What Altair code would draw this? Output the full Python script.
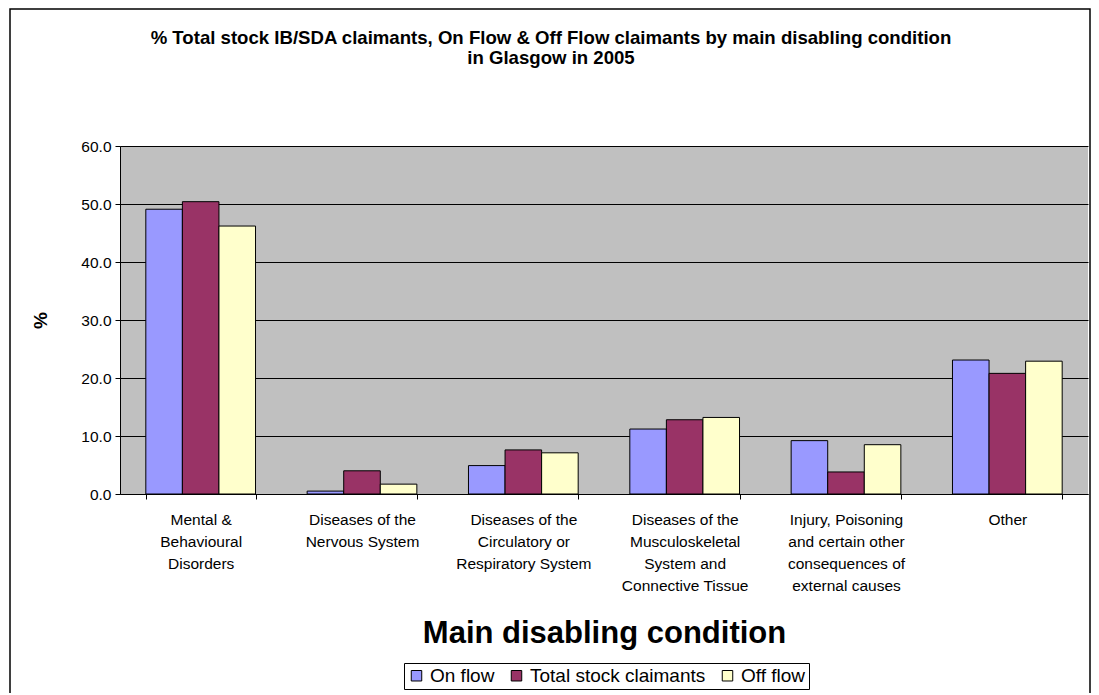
import altair as alt
import pandas as pd

categories = [
    "Mental &|Behavioural|Disorders",
    "Diseases of the|Nervous System",
    "Diseases of the|Circulatory or|Respiratory System",
    "Diseases of the|Musculoskeletal|System and|Connective Tissue",
    "Injury, Poisoning|and certain other|consequences of|external causes",
    "Other",
]
series = ["On flow", "Total stock claimants", "Off flow"]
on_flow = [49.1, 0.5, 4.9, 11.2, 9.2, 23.1]
total_stock = [50.4, 4.0, 7.6, 12.8, 3.8, 20.8]
off_flow = [46.2, 1.7, 7.1, 13.2, 8.5, 22.9]
colors = ["#9999FF", "#993366", "#FFFFCC"]
title_lines = [
    "% Total stock IB/SDA claimants, On Flow & Off Flow claimants by main disabling condition",
    "in Glasgow in 2005",
]

rows = []
for s, vals in zip(series, [on_flow, total_stock, off_flow]):
    for c, v in zip(categories, vals):
        rows.append({"category": c, "series": s, "value": v})
df = pd.DataFrame(rows)
one = pd.DataFrame({"a": [0]})

FONT = "Liberation Sans"

bars = alt.Chart(df).mark_bar(stroke="black", strokeWidth=1).encode(
    x=alt.X("category:N", sort=categories,
            scale=alt.Scale(paddingInner=0.32, paddingOuter=0.16),
            axis=alt.Axis(
                title="Main disabling condition",
                labelAngle=0,
                labelExpr="split(datum.label, '|')",
                labelFont=FONT, labelFontSize=15.5, labelColor="black",
                labelLineHeight=22, labelPadding=13, labelBaseline="top",
                tickBand="extent", tickSize=5, tickColor="black",
                domainColor="black", grid=False,
                titleFont=FONT, titleFontSize=31, titleFontWeight="bold",
                titleColor="black", titleBaseline="middle", titleY=139,
            )),
    xOffset=alt.XOffset("series:N", sort=series,
                        scale=alt.Scale(paddingInner=0, paddingOuter=0)),
    y=alt.Y("value:Q",
            scale=alt.Scale(domain=[0, 60], nice=False),
            axis=alt.Axis(
                title="%", values=[0, 10, 20, 30, 40, 50, 60], format=".1f",
                labelFont=FONT, labelFontSize=15.5, labelColor="black",
                labelPadding=4, tickSize=5, tickColor="black",
                domainColor="black", gridColor="black", gridOpacity=1,
                titleFont=FONT, titleFontSize=19, titleFontWeight="bold",
                titleColor="black", titleAngle=270, titleBaseline="middle",
                titleX=-80, titleY=174,
            )),
    color=alt.Color("series:N", sort=series,
                    scale=alt.Scale(domain=series, range=colors),
                    legend=alt.Legend(
                        title=None, orient="none", legendX=284, legendY=517,
                        direction="horizontal", symbolType="square",
                        symbolSize=110, symbolStrokeColor="black",
                        symbolStrokeWidth=1, labelFont=FONT, labelFontSize=19,
                        labelColor="black", strokeColor="black", fillColor="white",
                        padding=3, columnPadding=12, symbolOffset=0, labelOffset=4,
                        labelLimit=0,
                    )),
)

frame = alt.Chart(one).mark_rect(
    fill="white", fillOpacity=0, stroke="black", strokeWidth=1.5
).encode(
    x=alt.value(-110), x2=alt.value(970), y=alt.value(-137), y2=alt.value(570)
)

title = alt.Chart(one).mark_text(
    text=title_lines, font=FONT, fontSize=18.6, fontWeight="bold", color="black",
    align="center", baseline="middle", lineHeight=20,
).encode(x=alt.value(431), y=alt.value(-108))

chart = alt.layer(frame, bars, title).properties(
    width=968, height=348,
    background="white",
    autosize=alt.AutoSizeParams(type="none"),
    padding={"left": 112, "top": 138, "right": 3, "bottom": 199},
).configure_view(fill="#C0C0C0", stroke=None)

chart.save("out.html", embed_options={"renderer": "svg", "actions": False})
